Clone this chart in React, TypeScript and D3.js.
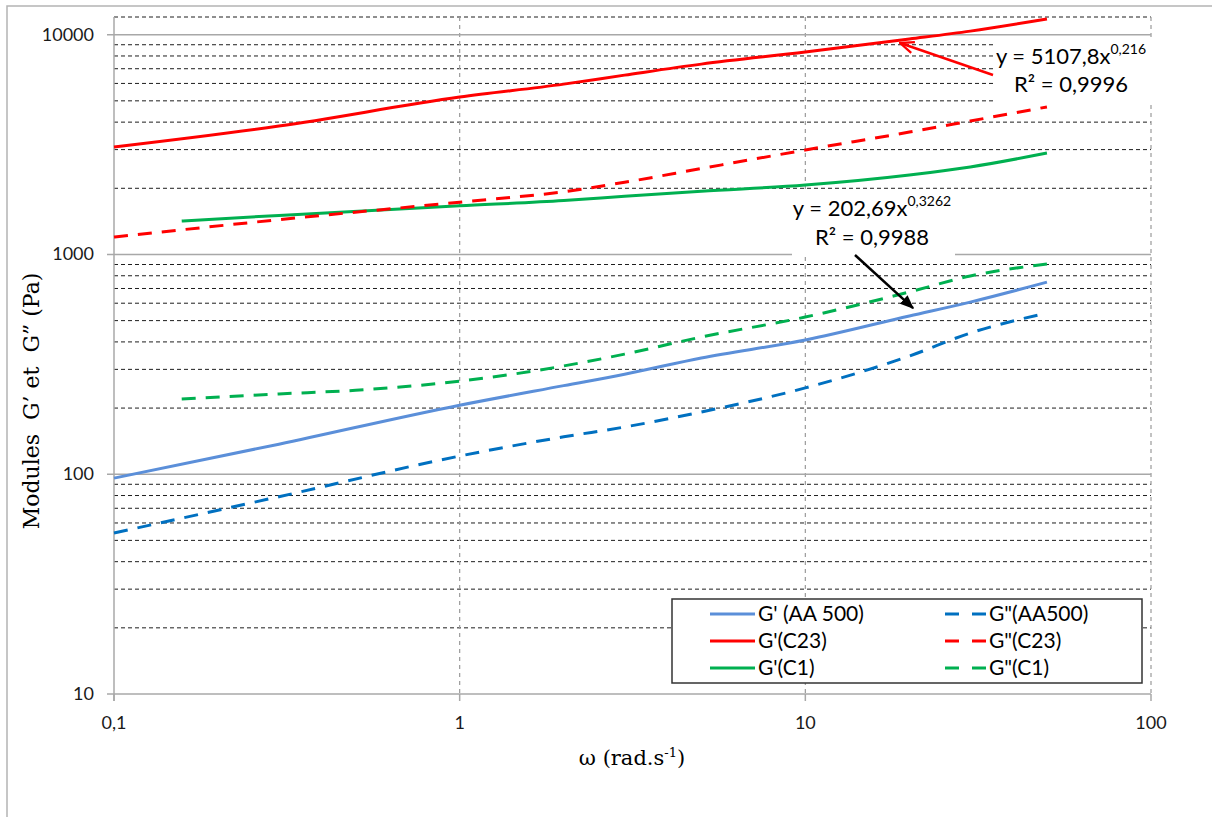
import React from 'react';
import * as d3 from 'd3';

const W = 1212;
const H = 817;

// axis ticks
const xTicks = [0.1, 1, 10, 100];
const xTickLabels = ['0,1', '1', '10', '100'];
const yTicks = [10, 100, 1000, 10000];
const yTickLabels = ['10', '100', '1000', '10000'];
const yMinorMult = [2, 3, 4, 5, 6, 7, 8, 9];
const yDomainMax = 12035;

// G'(AA 500)
const omegaGpAA = [0.1, 0.3, 1, 2, 3, 5, 10, 20, 30, 50];
const gpAA = [96, 137, 206, 253, 285, 338, 408, 525, 607, 748];
// G"(AA500)
const omegaGppAA = [0.1, 0.3, 1, 2, 3, 5, 10, 20, 30, 50];
const gppAA = [54, 79, 121, 148, 164, 192, 247, 345, 439, 541];
// G'(C23)
const omegaGpC23 = [0.1, 0.3, 1, 2, 3, 5, 10, 20, 30, 50];
const gpC23 = [3081, 3837, 5200, 5957, 6546, 7345, 8337, 9550, 10380, 11780];
// G"(C23)
const omegaGppC23 = [0.1, 0.3, 1, 2, 3, 5, 10, 20, 30, 50];
const gppC23 = [1200, 1440, 1730, 1930, 2130, 2460, 2988, 3605, 4048, 4690];
// G'(C1)
const omegaGpC1 = [0.157, 0.3, 1, 2, 3, 5, 10, 20, 30, 50];
const gpC1 = [1420, 1505, 1664, 1760, 1840, 1940, 2068, 2297, 2500, 2893];
// G"(C1)
const omegaGppC1 = [0.157, 0.3, 0.5, 1, 2, 3, 5, 10, 20, 30, 50];
const gppC1 = [220, 232, 241, 265, 311, 352, 421, 519, 675, 798, 904];

const seriesNames = ["G' (AA 500)", "G'(C23)", "G'(C1)", 'G"(AA500)', 'G"(C23)', 'G"(C1)'];
const seriesColors = ['#5B8FD9', '#FF0000', '#00B050', '#0070C0', '#FF0000', '#00B050'];
const seriesDashed = [false, false, false, true, true, true];
const seriesOmega = [omegaGpAA, omegaGpC23, omegaGpC1, omegaGppAA, omegaGppC23, omegaGppC1];
const seriesValues = [gpAA, gpC23, gpC1, gppAA, gppC23, gppC1];

// annotations (trend line equations)
const fit1 = { eq: 'y = 5107,8x', exp: '0,216', r2: 'R² = 0,9996', tipOmega: 18.8, tipG: 9160 };
const fit2 = { eq: 'y = 202,69x', exp: '0,3262', r2: 'R² = 0,9988', tipOmega: 20.5, tipG: 570 };

const L = 114, R = 1151, T = 17, B = 694;

export default function App() {
  const x = d3.scaleLog().domain([0.1, 100]).range([L, R]);
  const y = d3.scaleLog().domain([10, yDomainMax]).range([B, T]);

  const minor: number[] = [];
  for (const p of [10, 100, 1000, 10000]) {
    for (const m of yMinorMult) {
      const v = m * p;
      if (v < yDomainMax) minor.push(v);
    }
  }

  const line = d3
    .line<[number, number]>()
    .x((d) => x(d[0]))
    .y((d) => y(d[1]))
    .curve(d3.curveMonotoneX);

  const sans = 'Lato, "Open Sans", sans-serif';
  const serif = '"DejaVu Serif", serif';

  const legendRows = [0, 1, 2];

  return (
    <svg
      width={W}
      height={H}
      style={{ position: 'absolute', left: 0, top: 0, background: '#fff' }}
    >
      <defs>
        <marker id="arrBlack" viewBox="0 0 12 10" refX="11" refY="5" markerWidth="14" markerHeight="12" markerUnits="userSpaceOnUse" orient="auto">
          <path d="M0,0 L12,5 L0,10 Z" fill="#000" />
        </marker>
        <marker id="arrRed" viewBox="0 0 14 12" refX="13" refY="6" markerWidth="16" markerHeight="14" markerUnits="userSpaceOnUse" orient="auto">
          <path d="M1,1 L13,6 L1,11" fill="none" stroke="#FF0000" strokeWidth="2" />
        </marker>
      </defs>
      <rect x={0} y={0} width={W} height={H} fill="#fff" />
      {/* outer frame */}
      <rect x={7} y={6} width={1230} height={840} fill="none" stroke="#b4b4b4" strokeWidth={1.5} />

      {/* minor horizontal gridlines */}
      {minor.map((v) => (
        <line key={'mn' + v} x1={L} x2={R} y1={y(v)} y2={y(v)} stroke="#1e1e1e" strokeWidth={1} strokeDasharray="4,3" />
      ))}
      {/* top border */}
      <line x1={L} x2={R} y1={T} y2={T} stroke="#1e1e1e" strokeWidth={1} strokeDasharray="4,3" />

      {/* vertical gridlines */}
      {xTicks.slice(1).map((v) => (
        <line key={'vx' + v} x1={x(v)} x2={x(v)} y1={T} y2={B} stroke="#9a9a9a" strokeWidth={1.2} strokeDasharray="4,4" />
      ))}
      {/* major horizontal gridlines */}
      {yTicks.map((v) => (
        <line key={'mj' + v} x1={L - 7} x2={R} y1={y(v)} y2={y(v)} stroke="#a8a8a8" strokeWidth={1.5} />
      ))}
      {/* y axis */}
      <line x1={L} x2={L} y1={T} y2={B + 7} stroke="#a8a8a8" strokeWidth={1.5} />
      {/* x ticks */}
      {xTicks.map((v) => (
        <line key={'xt' + v} x1={x(v)} x2={x(v)} y1={B} y2={B + 7} stroke="#a8a8a8" strokeWidth={1.5} />
      ))}

      {/* tick labels */}
      {yTicks.map((v, i) => (
        <text key={'yl' + v} x={94} y={y(v) + 6} textAnchor="end" fontFamily={sans} fontSize={18} fill="#1a1a1a">
          {yTickLabels[i]}
        </text>
      ))}
      {xTicks.map((v, i) => (
        <text key={'xl' + v} x={x(v)} y={729} textAnchor="middle" fontFamily={sans} fontSize={18} fill="#1a1a1a">
          {xTickLabels[i]}
        </text>
      ))}

      {/* axis titles */}
      <text
        transform="translate(39,401) rotate(-90)"
        textAnchor="middle"
        fontFamily={serif}
        fontSize={22}
        fill="#000"
        style={{ whiteSpace: 'pre' }}
      >
        {'Modules  G’ et  G” (Pa)'}
      </text>
      <text x={632} y={765} textAnchor="middle" fontFamily={serif} fontSize={21} fill="#000">
        <tspan>ω (rad.s</tspan>
        <tspan dy={-8} fontSize={13}>-1</tspan>
        <tspan dy={8}>)</tspan>
      </text>

      {/* series */}
      {seriesNames.map((n, i) => (
        <path
          key={'s' + i}
          d={line(seriesOmega[i].map((o, j) => [o, seriesValues[i][j]] as [number, number])) || ''}
          fill="none"
          stroke={seriesColors[i]}
          strokeWidth={3}
          strokeDasharray={seriesDashed[i] ? '14,10' : undefined}
        />
      ))}

      {/* annotation 1 */}
      <rect x={993} y={37} width={165} height={65} fill="#fff" />
      <text x={1071} y={64} textAnchor="middle" fontFamily={sans} fontSize={22} fill="#000">
        <tspan>{fit1.eq}</tspan>
        <tspan dy={-10} fontSize={14}>{fit1.exp}</tspan>
      </text>
      <text x={1071} y={92} textAnchor="middle" fontFamily={sans} fontSize={22} fill="#000">
        {fit1.r2}
      </text>
      <line x1={993} y1={75} x2={x(fit1.tipOmega)} y2={y(fit1.tipG)} stroke="#FF0000" strokeWidth={2.5} markerEnd="url(#arrRed)" />

      {/* annotation 2 */}
      <rect x={792} y={191} width={163} height={66} fill="#fff" />
      <text x={872} y={216} textAnchor="middle" fontFamily={sans} fontSize={22} fill="#000">
        <tspan>{fit2.eq}</tspan>
        <tspan dy={-10} fontSize={14}>{fit2.exp}</tspan>
      </text>
      <text x={872} y={245} textAnchor="middle" fontFamily={sans} fontSize={22} fill="#000">
        {fit2.r2}
      </text>
      <line x1={855} y1={255} x2={x(fit2.tipOmega)} y2={y(fit2.tipG)} stroke="#000" strokeWidth={2.5} markerEnd="url(#arrBlack)" />

      {/* legend */}
      <rect x={672} y={599} width={470} height={84} fill="#fff" stroke="#333" strokeWidth={1.5} />
      {legendRows.map((r) => (
        <g key={'lg' + r}>
          <line x1={710} x2={755} y1={614 + r * 27} y2={614 + r * 27} stroke={seriesColors[r]} strokeWidth={3} />
          <text x={758} y={621 + r * 27} fontFamily={sans} fontSize={21} fill="#000">
            {seriesNames[r]}
          </text>
          <line x1={945} x2={986} y1={614 + r * 27} y2={614 + r * 27} stroke={seriesColors[r + 3]} strokeWidth={3} strokeDasharray="14,13" />
          <text x={989} y={621 + r * 27} fontFamily={sans} fontSize={21} fill="#000">
            {seriesNames[r + 3]}
          </text>
        </g>
      ))}
    </svg>
  );
}
